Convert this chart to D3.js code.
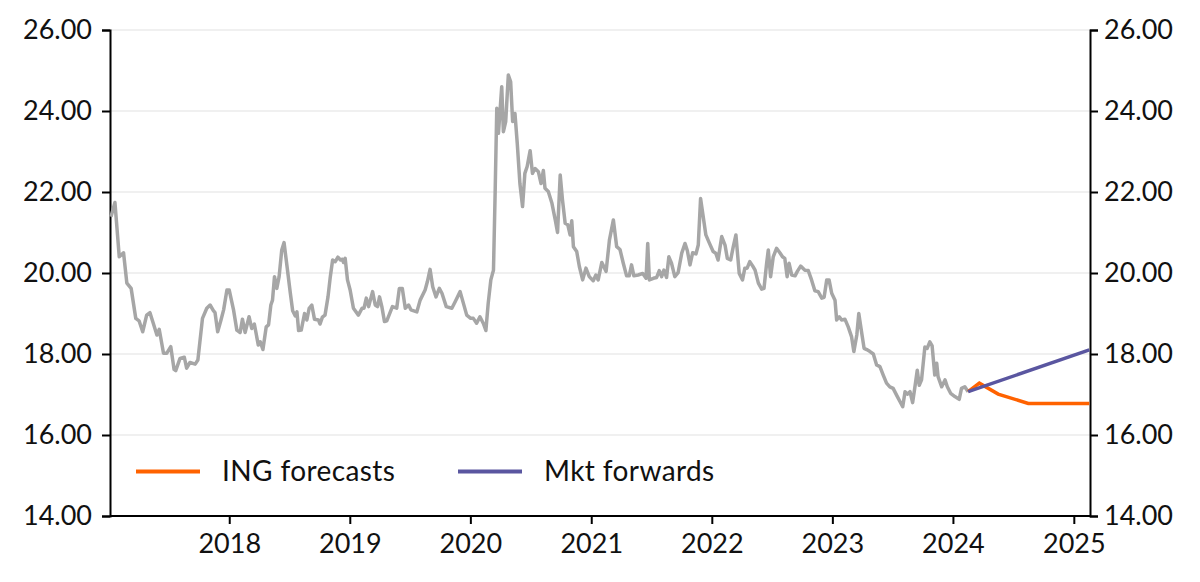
<!DOCTYPE html>
<html>
<head>
  <meta charset="utf-8">
  <style>
    * { margin: 0; padding: 0; box-sizing: border-box; }
    body { background: #fff; font-family: Lato, "Noto Sans", sans-serif; }
    svg { display: block; }
  </style>
</head>
<body>
  <div id="chart"></div>
  <script src="https://cdn.jsdelivr.net/npm/d3@7"></script>
  <script>
    // spot history (weekly-ish)
    const spotDates = [
      '2017-01-08','2017-01-20','2017-02-02','2017-02-15','2017-02-25','2017-03-10','2017-03-24','2017-04-03','2017-04-14','2017-04-26',
      '2017-05-06','2017-05-16','2017-05-27','2017-06-03','2017-06-16','2017-06-26','2017-07-08','2017-07-18','2017-07-23','2017-08-05',
      '2017-08-18','2017-08-25','2017-09-04','2017-09-20','2017-09-28','2017-10-12','2017-10-25','2017-11-04','2017-11-14','2017-11-19',
      '2017-11-27','2017-12-07','2017-12-15','2017-12-25','2018-01-01','2018-01-14','2018-01-24','2018-02-03','2018-02-10','2018-02-18',
      '2018-03-02','2018-03-10','2018-03-18','2018-03-30','2018-04-05','2018-04-13','2018-04-23','2018-04-30','2018-05-07','2018-05-12',
      '2018-05-18','2018-05-25','2018-06-01','2018-06-09','2018-06-16','2018-06-25','2018-07-05','2018-07-12','2018-07-20','2018-07-25',
      '2018-07-30','2018-08-07','2018-08-17','2018-08-24','2018-08-31','2018-09-08','2018-09-16','2018-09-28','2018-10-03','2018-10-10',
      '2018-10-18','2018-10-27','2018-11-03','2018-11-10','2018-11-18','2018-11-26','2018-12-04','2018-12-10','2018-12-13','2018-12-18',
      '2018-12-25','2019-01-02','2019-01-12','2019-01-27','2019-02-07','2019-02-13','2019-02-20','2019-02-27','2019-03-11','2019-03-19',
      '2019-03-26','2019-04-01','2019-04-08','2019-04-16','2019-04-23','2019-05-10','2019-05-23','2019-05-31','2019-06-09','2019-06-18',
      '2019-06-28','2019-07-05','2019-07-23','2019-08-02','2019-08-17','2019-08-24','2019-09-01','2019-09-09','2019-09-19','2019-09-29',
      '2019-10-07','2019-10-20','2019-11-06','2019-11-16','2019-12-01','2019-12-11','2019-12-21','2020-01-02','2020-01-10','2020-01-20',
      '2020-01-30','2020-02-09','2020-02-17','2020-02-24','2020-03-03','2020-03-11','2020-03-16','2020-03-21','2020-03-26','2020-03-31',
      '2020-04-05','2020-04-10','2020-04-17','2020-04-25','2020-05-02','2020-05-08','2020-05-15','2020-05-22','2020-05-30','2020-06-07',
      '2020-06-14','2020-06-21','2020-06-30','2020-07-07','2020-07-15','2020-07-25','2020-08-02','2020-08-09','2020-08-14','2020-08-24',
      '2020-09-04','2020-09-14','2020-09-21','2020-09-29','2020-10-06','2020-10-14','2020-10-22','2020-10-29','2020-11-03','2020-11-08',
      '2020-11-18','2020-11-26','2020-12-06','2020-12-16','2020-12-26','2021-01-07','2021-01-15','2021-01-22','2021-02-02','2021-02-15',
      '2021-02-25','2021-03-09','2021-03-19','2021-03-29','2021-04-08','2021-04-18','2021-04-26','2021-05-03','2021-05-10','2021-05-23',
      '2021-06-06','2021-06-16','2021-06-21','2021-06-26','2021-07-08','2021-07-18','2021-07-26','2021-08-02','2021-08-09','2021-08-17',
      '2021-08-24','2021-09-01','2021-09-11','2021-09-21','2021-10-02','2021-10-12','2021-10-19','2021-10-27','2021-11-04','2021-11-14',
      '2021-11-21','2021-11-28','2021-12-06','2021-12-14','2021-12-24','2022-01-05','2022-01-13','2022-01-20','2022-01-31','2022-02-10',
      '2022-02-17','2022-02-27','2022-03-07','2022-03-15','2022-03-25','2022-04-04','2022-04-11','2022-04-18','2022-04-26','2022-05-05',
      '2022-05-12','2022-05-22','2022-06-01','2022-06-08','2022-06-16','2022-06-21','2022-06-28','2022-07-06','2022-07-16','2022-07-26',
      '2022-08-03','2022-08-10','2022-08-17','2022-08-23','2022-08-31','2022-09-10','2022-09-17','2022-09-27','2022-10-10','2022-10-20',
      '2022-10-30','2022-11-09','2022-11-19','2022-11-30','2022-12-07','2022-12-15','2022-12-22','2022-12-30','2023-01-09','2023-01-14',
      '2023-01-22','2023-01-29','2023-02-08','2023-02-18','2023-02-28','2023-03-07','2023-03-16','2023-03-22','2023-03-31','2023-04-07',
      '2023-04-15','2023-04-25','2023-05-05','2023-05-15','2023-05-25','2023-06-04','2023-06-14','2023-06-24','2023-07-04','2023-07-16',
      '2023-07-25','2023-08-02','2023-08-09','2023-08-16','2023-08-24','2023-09-01','2023-09-08','2023-09-15','2023-09-21','2023-09-28',
      '2023-10-08','2023-10-15','2023-10-23','2023-10-30','2023-11-07','2023-11-13','2023-11-17','2023-11-28','2023-12-08','2023-12-15',
      '2023-12-25','2024-01-07','2024-01-20','2024-01-27','2024-02-06','2024-02-16'
    ];
    const spotValues = [
      21.39,21.74,20.40,20.50,19.75,19.62,18.88,18.82,18.55,18.96,
      19.02,18.76,18.47,18.61,18.02,18.02,18.18,17.62,17.59,17.89,
      17.92,17.65,17.79,17.75,17.85,18.88,19.13,19.21,19.07,19.02,
      18.55,18.84,19.09,19.58,19.58,19.09,18.59,18.53,18.86,18.53,
      18.92,18.63,18.74,18.22,18.30,18.11,18.67,18.72,19.21,19.33,
      19.91,19.62,19.91,20.57,20.75,20.16,19.50,19.07,18.94,19.04,
      18.58,18.59,19.00,18.84,19.13,19.21,18.86,18.84,18.74,18.91,
      18.96,19.41,19.91,20.32,20.28,20.39,20.32,20.34,20.26,20.36,
      19.83,19.58,19.13,18.96,19.13,19.13,19.38,19.17,19.54,19.21,
      19.17,19.41,19.17,18.80,18.82,19.17,19.13,19.62,19.62,19.13,
      19.21,19.09,19.04,19.33,19.58,19.79,20.09,19.66,19.41,19.62,
      19.50,19.17,19.13,19.29,19.54,19.25,18.96,18.88,18.88,18.76,
      18.92,18.76,18.58,19.25,19.83,20.07,21.97,24.07,23.45,24.02,
      24.60,23.49,23.74,24.89,24.72,23.74,23.94,23.20,22.21,21.64,
      22.46,22.63,23.02,22.46,22.58,22.50,22.21,22.53,22.09,22.01,
      21.72,21.31,21.00,22.42,21.80,21.23,21.19,20.94,21.29,20.65,
      20.53,20.16,19.83,20.12,19.91,19.81,19.95,19.83,20.26,20.04,
      20.81,21.31,20.65,20.58,20.24,19.93,19.93,20.20,19.93,19.95,
      19.99,19.87,20.73,19.83,19.87,19.89,20.06,19.91,20.07,19.89,
      20.40,20.24,19.91,20.01,20.49,20.73,20.55,20.20,20.50,20.47,
      20.69,21.84,21.39,20.94,20.75,20.53,20.49,20.32,20.90,20.69,
      20.36,20.32,20.65,20.94,19.99,19.83,20.12,20.12,20.28,20.17,
      20.07,19.75,19.60,19.62,20.24,20.57,19.91,20.40,20.61,20.50,
      20.40,20.36,19.91,20.24,19.95,19.93,20.04,20.17,20.07,20.06,
      19.83,19.56,19.54,19.38,19.40,19.83,19.83,19.50,19.33,18.84,
      18.92,18.84,18.86,18.67,18.43,18.06,18.47,19.00,18.51,18.14,
      18.11,18.06,18.00,17.73,17.69,17.48,17.28,17.19,17.15,16.96,
      16.82,16.70,17.07,17.01,17.07,16.80,17.19,17.60,17.23,17.36,
      18.17,18.14,18.30,18.20,17.48,17.77,17.44,17.19,17.36,17.19,
      17.03,16.95,16.88,17.15,17.19,17.07
    ];

    const ingDates = ['2024-02-16', '2024-03-21', '2024-05-17', '2024-08-16', '2025-02-17'];
    const ingValues = [17.07, 17.28, 17.01, 16.78, 16.78];

    const fwdDates = ['2024-02-16', '2025-02-17'];
    const fwdValues = [17.07, 18.10];

    const yTicks = [14, 16, 18, 20, 22, 24, 26];
    const xTickYears = [2018, 2019, 2020, 2021, 2022, 2023, 2024, 2025];
    const legendLabels = ['ING forecasts', 'Mkt forwards'];

    const width = 1200, height = 582;
    const margin = { top: 30, right: 110, bottom: 66, left: 110 };
    const font = 'Lato, "Noto Sans", sans-serif';
    const parse = d3.timeParse('%Y-%m-%d');
    const zip = (ds, vs) => ds.map((d, i) => ({ date: parse(d), value: vs[i] }));

    const spot = zip(spotDates, spotValues);
    const ing = zip(ingDates, ingValues);
    const fwd = zip(fwdDates, fwdValues);

    const x = d3.scaleTime()
      .domain([parse('2017-01-05'), parse('2025-02-19')])
      .range([margin.left, width - margin.right]);
    const y = d3.scaleLinear()
      .domain([14, 26])
      .range([height - margin.bottom, margin.top]);

    const svg = d3.select('#chart').append('svg')
      .attr('width', width).attr('height', height)
      .attr('viewBox', [0, 0, width, height]);

    // gridlines
    svg.append('g')
      .selectAll('line')
      .data(yTicks.slice(1))
      .join('line')
      .attr('x1', margin.left).attr('x2', width - margin.right)
      .attr('y1', d => y(d)).attr('y2', d => y(d))
      .attr('stroke', '#ebebeb').attr('stroke-width', 1.5);

    const fmt = d3.format('.2f');
    const styleAxis = g => {
      g.selectAll('.domain').attr('stroke', '#000').attr('stroke-width', 2);
      g.selectAll('.tick line').attr('stroke', '#000').attr('stroke-width', 2);
      g.selectAll('.tick text').attr('fill', '#111').attr('font-size', 27)
        .attr('font-family', font);
    };

    svg.append('g')
      .attr('transform', 'translate(' + margin.left + ',0)')
      .call(d3.axisLeft(y).tickValues(yTicks).tickFormat(fmt).tickSize(8).tickPadding(10))
      .call(styleAxis);

    svg.append('g')
      .attr('transform', 'translate(' + (width - margin.right) + ',0)')
      .call(d3.axisRight(y).tickValues(yTicks).tickFormat(fmt).tickSize(8).tickPadding(6))
      .call(styleAxis);

    svg.append('g')
      .attr('transform', 'translate(0,' + (height - margin.bottom) + ')')
      .call(d3.axisBottom(x)
        .tickValues(xTickYears.map(yr => new Date(yr, 0, 1)))
        .tickFormat(d3.timeFormat('%Y'))
        .tickSize(8).tickPadding(10))
      .call(styleAxis)
      .call(g => g.select('.domain').remove());
    // bottom baseline drawn across
    svg.append('line')
      .attr('x1', margin.left).attr('x2', width - margin.right)
      .attr('y1', y(14)).attr('y2', y(14))
      .attr('stroke', '#000').attr('stroke-width', 2);

    const line = d3.line().x(d => x(d.date)).y(d => y(d.value));

    svg.append('path').datum(spot)
      .attr('fill', 'none').attr('stroke', '#a6a6a6').attr('stroke-width', 3.5)
      .attr('stroke-linejoin', 'round').attr('d', line);
    svg.append('path').datum(ing)
      .attr('fill', 'none').attr('stroke', '#ff6200').attr('stroke-width', 3.5)
      .attr('d', line);
    svg.append('path').datum(fwd)
      .attr('fill', 'none').attr('stroke', '#5a56a0').attr('stroke-width', 3.5)
      .attr('d', line);

    // legend
    const legendColors = ['#ff6200', '#5a56a0'];
    const legend = svg.append('g').attr('transform', 'translate(136,' + y(15.1) + ')');
    legendLabels.forEach(function(label, i) {
      const g = legend.append('g').attr('transform', 'translate(' + (i * 322) + ',0)');
      g.append('line').attr('x1', 0).attr('x2', 64).attr('y1', 0).attr('y2', 0)
        .attr('stroke', legendColors[i]).attr('stroke-width', 4);
      g.append('text').attr('x', 86).attr('y', 0).attr('dy', '0.35em')
        .attr('font-size', 28).attr('letter-spacing', 0.4).attr('fill', '#111')
        .attr('font-family', font)
        .text(label);
    });
  </script>
</body>
</html>
